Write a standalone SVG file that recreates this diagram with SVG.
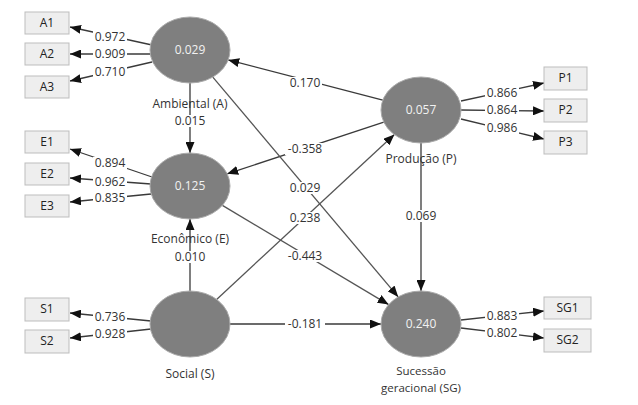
<svg xmlns="http://www.w3.org/2000/svg" width="638" height="405" viewBox="0 0 638 405">
<style>
text{font-family:"Open Sans","DejaVu Sans",sans-serif;font-size:12px;fill:#333;text-anchor:middle}
.ln{stroke:#3a3a3a;stroke-width:1.3;fill:none;marker-end:url(#ah)}
.sl{stroke:#555;stroke-width:1.3;fill:none;marker-end:url(#ah)}
.lb{fill:#fff}
.lv{fill:#7f7f7f;stroke:#aaa;stroke-width:1}
.lt{fill:#f2f2f2}
.bx{fill:#eeeeee;stroke:#bdbdbd;stroke-width:1}
.bt{fill:#222}
.sm{font-size:11.5px}
</style>
<defs>
<marker id="ah" markerUnits="userSpaceOnUse" markerWidth="11" markerHeight="9" refX="11" refY="4.5" orient="auto">
<path d="M0,0 L11,4.5 L0,9 z" fill="#111"/>
</marker>
</defs>
<rect width="638" height="405" fill="#fff"/>
<g id="connectors">
<line class="ln" x1="152" y1="45" x2="70" y2="27"/>
<line class="ln" x1="151" y1="54" x2="70" y2="54"/>
<line class="ln" x1="152" y1="62" x2="70" y2="81"/>
<line class="ln" x1="152" y1="177" x2="70" y2="149"/>
<line class="ln" x1="151" y1="184" x2="70" y2="178"/>
<line class="ln" x1="151" y1="194" x2="70" y2="202"/>
<line class="ln" x1="151" y1="321" x2="70" y2="313"/>
<line class="ln" x1="151" y1="329" x2="70" y2="338"/>
<line class="ln" x1="461" y1="101" x2="544" y2="83"/>
<line class="ln" x1="461" y1="110" x2="544" y2="111"/>
<line class="ln" x1="461" y1="119" x2="544" y2="139"/>
<line class="ln" x1="461" y1="320" x2="544" y2="311"/>
<line class="ln" x1="461" y1="328" x2="544" y2="338"/>
<line class="ln" x1="190" y1="83" x2="190" y2="153"/>
<line class="ln" x1="190" y1="291" x2="190" y2="219"/>
<line class="ln" x1="382.8" y1="100.1" x2="228.2" y2="59.9"/>
<line class="ln" x1="383.8" y1="122.2" x2="227.2" y2="173.8"/>
<line class="sl" x1="212.8" y1="77.1" x2="398.2" y2="296.9"/>
<line class="sl" x1="222.4" y1="205.4" x2="388.6" y2="304.6"/>
<line class="sl" x1="216.6" y1="299.4" x2="394.4" y2="134.6"/>
<line class="ln" x1="230" y1="324" x2="381" y2="324"/>
<line class="ln" x1="421" y1="143" x2="421" y2="291"/>
<g id="edge-labels">
<rect class="lb" x="93" y="31" width="34" height="12"/><text x="110" y="41">0.972</text>
<rect class="lb" x="93" y="48" width="34" height="12"/><text x="110" y="58">0.909</text>
<rect class="lb" x="93" y="66" width="34" height="12"/><text x="110" y="76">0.710</text>
<rect class="lb" x="93" y="157" width="34" height="12"/><text x="110" y="167">0.894</text>
<rect class="lb" x="93" y="176" width="34" height="12"/><text x="110" y="186">0.962</text>
<rect class="lb" x="93" y="192" width="34" height="12"/><text x="110" y="202">0.835</text>
<rect class="lb" x="93" y="311" width="34" height="12"/><text x="110" y="321">0.736</text>
<rect class="lb" x="93" y="328" width="34" height="12"/><text x="110" y="338">0.928</text>
<rect class="lb" x="485" y="87" width="34" height="12"/><text x="502" y="97">0.866</text>
<rect class="lb" x="485" y="104" width="34" height="12"/><text x="502" y="114">0.864</text>
<rect class="lb" x="485" y="122" width="34" height="12"/><text x="502" y="132">0.986</text>
<rect class="lb" x="485" y="310" width="34" height="12"/><text x="502" y="320">0.883</text>
<rect class="lb" x="485" y="327" width="34" height="12"/><text x="502" y="337">0.802</text>
<rect class="lb" x="173" y="115" width="34" height="12"/><text x="190" y="125">0.015</text>
<rect class="lb" x="173" y="251" width="34" height="12"/><text x="190" y="261">0.010</text>
<rect class="lb" x="288" y="77" width="34" height="12"/><text x="305" y="87">0.170</text>
<rect class="lb" x="285" y="143" width="40" height="12"/><text x="305" y="153">-0.358</text>
<rect class="lb" x="288" y="182" width="34" height="12"/><text x="305" y="192">0.029</text>
<rect class="lb" x="288" y="212" width="34" height="12"/><text x="305" y="222">0.238</text>
<rect class="lb" x="285" y="250" width="40" height="12"/><text x="305" y="260">-0.443</text>
<rect class="lb" x="285" y="318" width="40" height="12"/><text x="305" y="328">-0.181</text>
<rect class="lb" x="404" y="210" width="34" height="12"/><text x="421" y="220">0.069</text>
</g>
</g>
<g id="A"><ellipse class="lv" cx="190" cy="50" rx="40" ry="33"/><text class="lt" x="190" y="54">0.029</text><text x="190" y="108">Ambiental (A)</text></g>
<g id="E"><ellipse class="lv" cx="190" cy="186" rx="40" ry="33"/><text class="lt" x="190" y="190">0.125</text><text x="190" y="243">Econômico (E)</text></g>
<g id="S"><ellipse class="lv" cx="190" cy="324" rx="40" ry="33"/><text x="190" y="378">Social (S)</text></g>
<g id="P"><ellipse class="lv" cx="421" cy="110" rx="40" ry="33"/><text class="lt" x="421" y="114">0.057</text><text x="421" y="163">Produção (P)</text></g>
<g id="SG"><ellipse class="lv" cx="421" cy="324" rx="40" ry="33"/><text class="lt" x="421" y="328">0.240</text><text class="sm" x="421" y="375">Sucessão</text><text class="sm" x="421" y="392">geracional (SG)</text></g>
<g id="A1"><rect class="bx" x="25" y="12" width="44" height="22"/><text class="bt" x="47" y="27">A1</text></g>
<g id="A2"><rect class="bx" x="25" y="43" width="44" height="22"/><text class="bt" x="47" y="58">A2</text></g>
<g id="A3"><rect class="bx" x="25" y="76" width="44" height="22"/><text class="bt" x="47" y="91">A3</text></g>
<g id="E1"><rect class="bx" x="25" y="131" width="44" height="22"/><text class="bt" x="47" y="146">E1</text></g>
<g id="E2"><rect class="bx" x="25" y="163" width="44" height="22"/><text class="bt" x="47" y="178">E2</text></g>
<g id="E3"><rect class="bx" x="25" y="195" width="44" height="22"/><text class="bt" x="47" y="210">E3</text></g>
<g id="S1"><rect class="bx" x="25" y="298" width="44" height="23"/><text class="bt" x="47" y="313">S1</text></g>
<g id="S2"><rect class="bx" x="25" y="330" width="44" height="23"/><text class="bt" x="47" y="345">S2</text></g>
<g id="P1"><rect class="bx" x="544" y="67" width="43" height="23"/><text class="bt" x="565.5" y="82">P1</text></g>
<g id="P2"><rect class="bx" x="544" y="99" width="43" height="23"/><text class="bt" x="565.5" y="114">P2</text></g>
<g id="P3"><rect class="bx" x="544" y="131" width="43" height="23"/><text class="bt" x="565.5" y="146">P3</text></g>
<g id="SG1"><rect class="bx" x="544" y="297" width="47" height="22"/><text class="bt" x="567.5" y="312">SG1</text></g>
<g id="SG2"><rect class="bx" x="544" y="329" width="47" height="23"/><text class="bt" x="567.5" y="344">SG2</text></g>
</svg>
